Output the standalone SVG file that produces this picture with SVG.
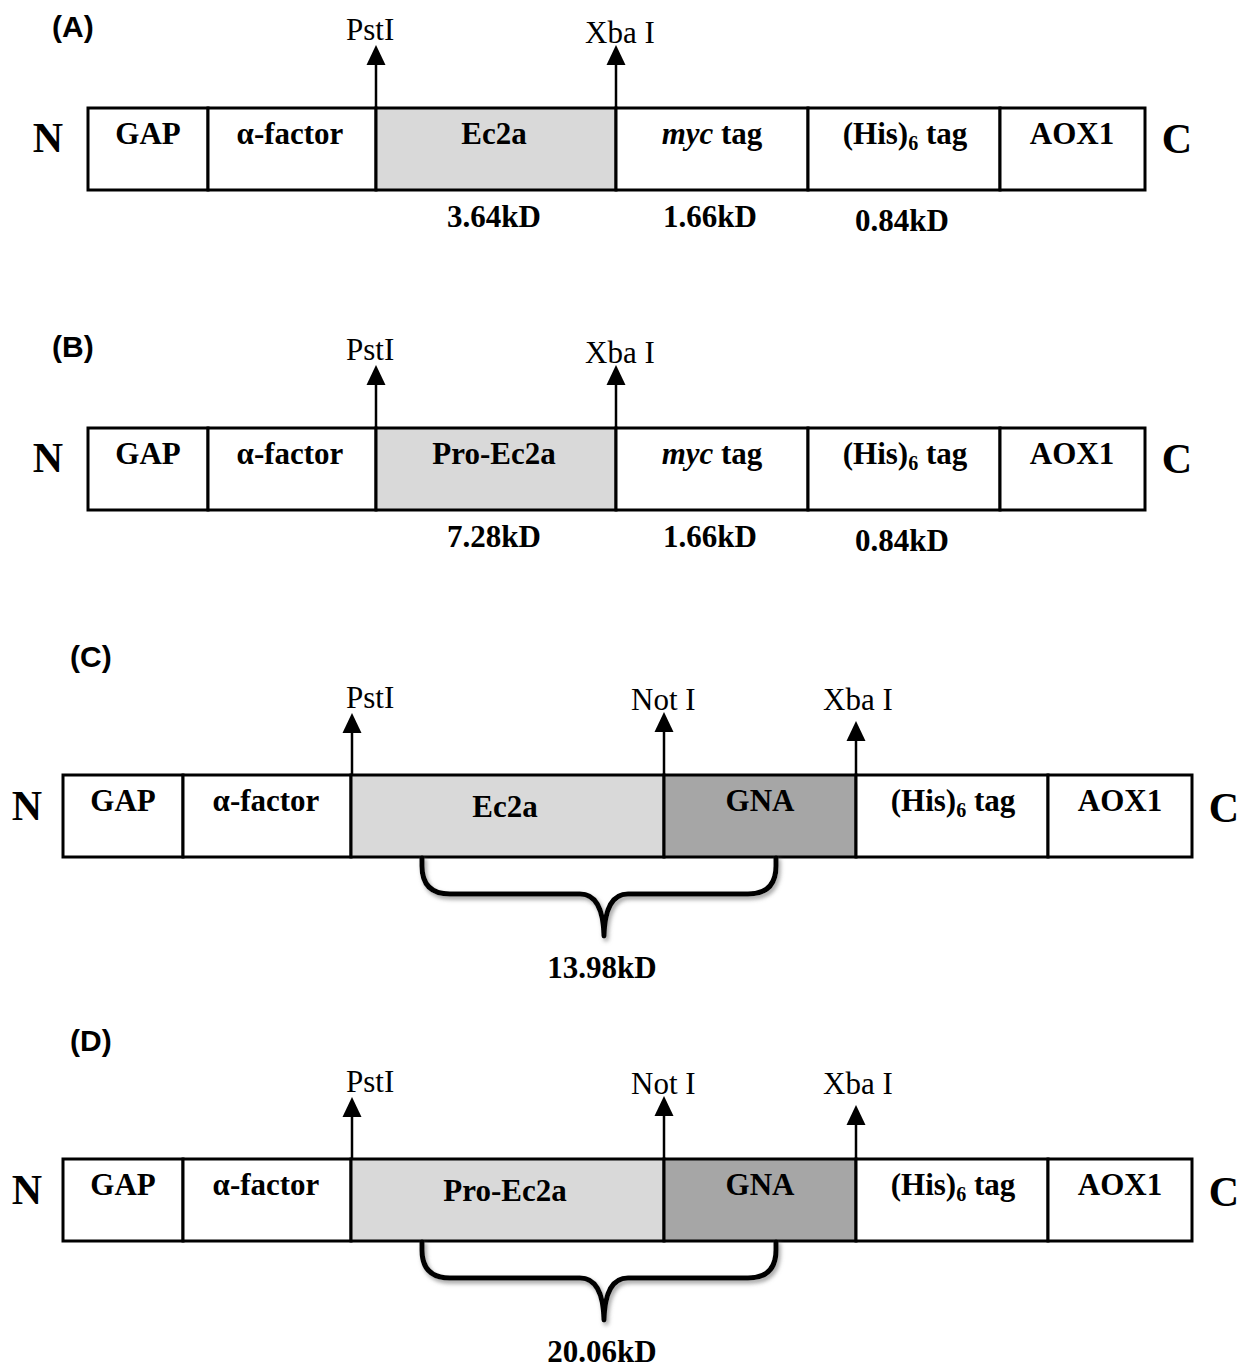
<svg xmlns="http://www.w3.org/2000/svg" width="1255" height="1367" viewBox="0 0 1255 1367">
<style>
.bg{fill:#fff}
.seg{fill:#fff;stroke:#000;stroke-width:3}
.lt{fill:#d9d9d9;stroke:#000;stroke-width:3}
.dk{fill:#a6a6a6;stroke:#000;stroke-width:3}
.bt{font-family:"Liberation Serif",serif;font-weight:bold;font-size:31px;text-anchor:middle;fill:#000}
.end{font-family:"Liberation Serif",serif;font-weight:bold;font-size:42px;text-anchor:middle;fill:#000}
.site{font-family:"Liberation Serif",serif;font-size:31px;fill:#000}
.pl{font-family:"Liberation Sans",Arial,sans-serif;font-weight:bold;font-size:30px;fill:#000}
.arr{stroke:#000;stroke-width:2.5;fill:none}
.head{fill:#000}
.brace{stroke:#000;stroke-width:5;fill:none;stroke-linejoin:round;stroke-linecap:round;filter:url(#sh)}
.sub{font-size:20px}
</style>
<defs>
<path id="ah" class="head" d="M-9.5,20 L9.5,20 L0,0 z"/>
<filter id="sh" x="-10%" y="-20%" width="130%" height="160%">
<feDropShadow dx="2" dy="3" stdDeviation="2" flood-color="#777" flood-opacity="0.7"/>
</filter>
</defs>
<rect class="bg" x="0" y="0" width="1255" height="1367"/>

<!-- Panel A -->
<g id="panelA">
<text class="pl" x="52" y="37">(A)</text>
<text class="end" x="48" y="152">N</text>
<text class="end" x="1177" y="153">C</text>
<g id="A_GAP"><rect class="seg" x="88" y="108" width="120" height="82"/><text class="bt" x="148" y="144">GAP</text></g>
<g id="A_alpha"><rect class="seg" x="208" y="108" width="168" height="82"/><text class="bt" x="290" y="144">α-factor</text></g>
<g id="A_Ec2a"><rect class="lt" x="376" y="108" width="240" height="82"/><text class="bt" x="494" y="144">Ec2a</text></g>
<g id="A_myc"><rect class="seg" x="616" y="108" width="192" height="82"/><text class="bt" x="712" y="144"><tspan font-style="italic">myc</tspan> tag</text></g>
<g id="A_His"><rect class="seg" x="808" y="108" width="192" height="82"/><text class="bt" x="905" y="144">(His)<tspan class="sub" dy="6">6</tspan><tspan dy="-6"> tag</tspan></text></g>
<g id="A_AOX1"><rect class="seg" x="1000" y="108" width="145" height="82"/><text class="bt" x="1072" y="144">AOX1</text></g>
<text class="bt" x="494" y="227">3.64kD</text>
<text class="bt" x="710" y="227">1.66kD</text>
<text class="bt" x="902" y="231">0.84kD</text>
<text class="site" x="346" y="40">PstI</text>
<text class="site" x="585" y="43">Xba I</text>
</g>

<!-- Panel B -->
<g id="panelB">
<text class="pl" x="52" y="357">(B)</text>
<text class="end" x="48" y="472">N</text>
<text class="end" x="1177" y="473">C</text>
<g id="B_GAP"><rect class="seg" x="88" y="428" width="120" height="82"/><text class="bt" x="148" y="464">GAP</text></g>
<g id="B_alpha"><rect class="seg" x="208" y="428" width="168" height="82"/><text class="bt" x="290" y="464">α-factor</text></g>
<g id="B_ProEc2a"><rect class="lt" x="376" y="428" width="240" height="82"/><text class="bt" x="494" y="464">Pro-Ec2a</text></g>
<g id="B_myc"><rect class="seg" x="616" y="428" width="192" height="82"/><text class="bt" x="712" y="464"><tspan font-style="italic">myc</tspan> tag</text></g>
<g id="B_His"><rect class="seg" x="808" y="428" width="192" height="82"/><text class="bt" x="905" y="464">(His)<tspan class="sub" dy="6">6</tspan><tspan dy="-6"> tag</tspan></text></g>
<g id="B_AOX1"><rect class="seg" x="1000" y="428" width="145" height="82"/><text class="bt" x="1072" y="464">AOX1</text></g>
<text class="bt" x="494" y="547">7.28kD</text>
<text class="bt" x="710" y="547">1.66kD</text>
<text class="bt" x="902" y="551">0.84kD</text>
<text class="site" x="346" y="360">PstI</text>
<text class="site" x="585" y="363">Xba I</text>
</g>

<!-- Panel C -->
<g id="panelC">
<text class="pl" x="70" y="667">(C)</text>
<text class="end" x="27" y="820">N</text>
<text class="end" x="1224" y="822">C</text>
<g id="C_GAP"><rect class="seg" x="63" y="775" width="120" height="82"/><text class="bt" x="123" y="811">GAP</text></g>
<g id="C_alpha"><rect class="seg" x="183" y="775" width="168" height="82"/><text class="bt" x="266" y="811">α-factor</text></g>
<g id="C_Ec2a"><rect class="lt" x="351" y="775" width="313" height="82"/><text class="bt" x="505" y="817">Ec2a</text></g>
<g id="C_GNA"><rect class="dk" x="664" y="775" width="192" height="82"/><text class="bt" x="760" y="811">GNA</text></g>
<g id="C_His"><rect class="seg" x="856" y="775" width="192" height="82"/><text class="bt" x="953" y="811">(His)<tspan class="sub" dy="6">6</tspan><tspan dy="-6"> tag</tspan></text></g>
<g id="C_AOX1"><rect class="seg" x="1048" y="775" width="144" height="82"/><text class="bt" x="1120" y="811">AOX1</text></g>
<text class="bt" x="602" y="978">13.98kD</text>
<text class="site" x="346" y="708">PstI</text>
<text class="site" x="631" y="710">Not I</text>
<text class="site" x="823" y="710">Xba I</text>
</g>

<!-- Panel D -->
<g id="panelD">
<text class="pl" x="70" y="1051">(D)</text>
<text class="end" x="27" y="1204">N</text>
<text class="end" x="1224" y="1206">C</text>
<g id="D_GAP"><rect class="seg" x="63" y="1159" width="120" height="82"/><text class="bt" x="123" y="1195">GAP</text></g>
<g id="D_alpha"><rect class="seg" x="183" y="1159" width="168" height="82"/><text class="bt" x="266" y="1195">α-factor</text></g>
<g id="D_ProEc2a"><rect class="lt" x="351" y="1159" width="313" height="82"/><text class="bt" x="505" y="1201">Pro-Ec2a</text></g>
<g id="D_GNA"><rect class="dk" x="664" y="1159" width="192" height="82"/><text class="bt" x="760" y="1195">GNA</text></g>
<g id="D_His"><rect class="seg" x="856" y="1159" width="192" height="82"/><text class="bt" x="953" y="1195">(His)<tspan class="sub" dy="6">6</tspan><tspan dy="-6"> tag</tspan></text></g>
<g id="D_AOX1"><rect class="seg" x="1048" y="1159" width="144" height="82"/><text class="bt" x="1120" y="1195">AOX1</text></g>
<text class="bt" x="602" y="1362">20.06kD</text>
<text class="site" x="346" y="1092">PstI</text>
<text class="site" x="631" y="1094">Not I</text>
<text class="site" x="823" y="1094">Xba I</text>
</g>

<!-- Connectors -->
<g id="connectors">
<line class="arr" x1="376" y1="108" x2="376" y2="64"/><use href="#ah" x="376" y="45"/>
<line class="arr" x1="616" y1="108" x2="616" y2="64"/><use href="#ah" x="616" y="45"/>
<line class="arr" x1="376" y1="428" x2="376" y2="384"/><use href="#ah" x="376" y="365"/>
<line class="arr" x1="616" y1="428" x2="616" y2="384"/><use href="#ah" x="616" y="365"/>
<line class="arr" x1="352" y1="775" x2="352" y2="732"/><use href="#ah" x="352" y="713"/>
<line class="arr" x1="664" y1="775" x2="664" y2="732"/><use href="#ah" x="664" y="712"/>
<line class="arr" x1="856" y1="775" x2="856" y2="740"/><use href="#ah" x="856" y="721"/>
<line class="arr" x1="352" y1="1159" x2="352" y2="1116"/><use href="#ah" x="352" y="1097"/>
<line class="arr" x1="664" y1="1159" x2="664" y2="1116"/><use href="#ah" x="664" y="1096"/>
<line class="arr" x1="856" y1="1159" x2="856" y2="1124"/><use href="#ah" x="856" y="1105"/>
<path class="brace" d="M422,858 L422,866 Q422,894 450,894 L580,894 Q603,894 604,936 Q605,894 628,894 L748,894 Q776,894 776,866 L776,858"/>
<path class="brace" d="M422,1242 L422,1250 Q422,1278 450,1278 L580,1278 Q603,1278 604,1320 Q605,1278 628,1278 L748,1278 Q776,1278 776,1250 L776,1242"/>
</g>
</svg>
